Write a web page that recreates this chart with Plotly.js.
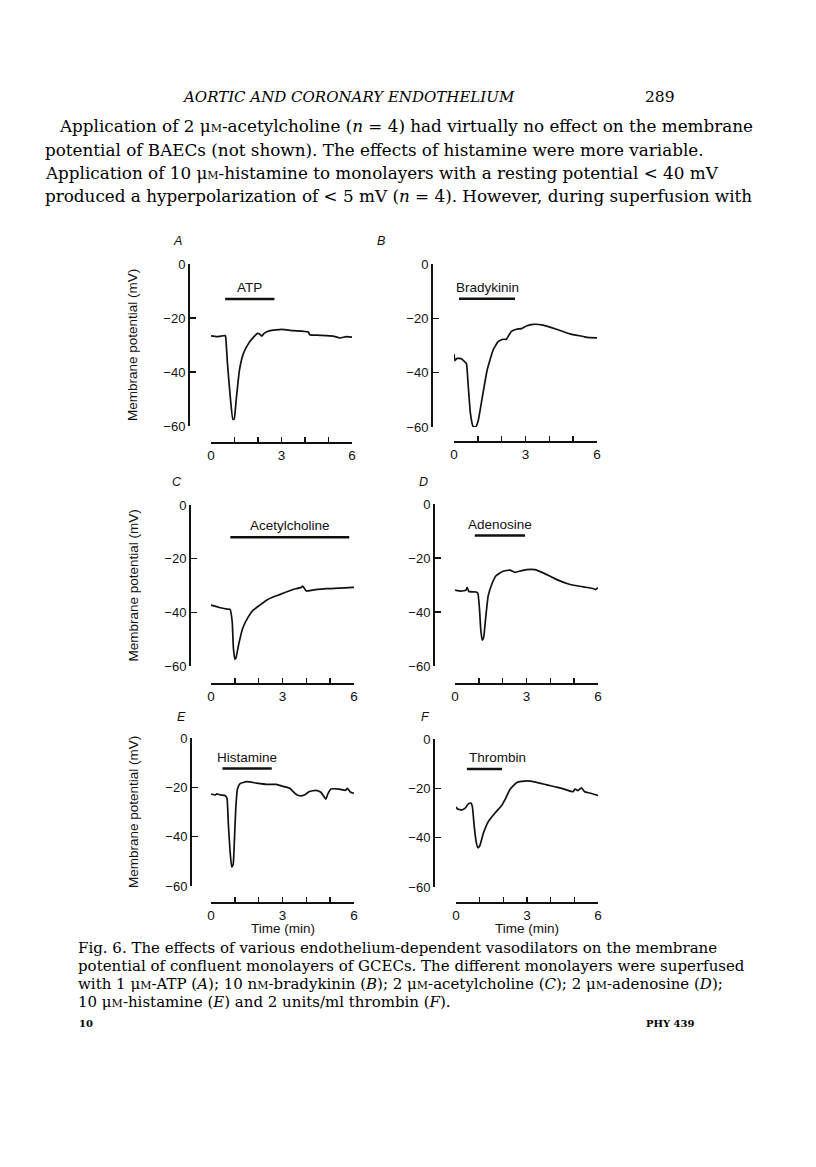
<!DOCTYPE html>
<html><head><meta charset="utf-8">
<script src="https://cdn.plot.ly/plotly-3.0.1.min.js"></script>
<style>html,body{margin:0;padding:0;background:#fff;}#chart{width:816px;height:1167px;}</style>
</head><body><div id="chart"></div>
<script>
// ---- data ----
const timeA = [0,0.25,0.6,0.62,0.7,0.82,0.93,0.99,1.07,1.21,1.38,1.6,1.81,1.98,2.06,2.16,2.26,2.51,3.0,3.5,4.14,4.2,4.63,5.2,5.48,5.76,6.0];
const mvA   = [-26.6,-26.9,-26.5,-26.7,-36.8,-49.2,-57.6,-57.3,-50.5,-39.3,-33.1,-29.4,-27.1,-25.7,-25.9,-26.7,-25.7,-24.7,-24.2,-24.7,-25.2,-26.2,-26.4,-26.7,-27.4,-26.9,-27.1];
const timeB = [0,0.04,0.13,0.31,0.45,0.52,0.6,0.69,0.8,0.91,1.02,1.19,1.39,1.64,1.85,2.06,2.2,2.31,2.41,2.62,2.83,3.04,3.32,3.74,4.3,4.86,5.43,5.57,6.0];
const mvB   = [-33.1,-35.6,-34.7,-34.9,-36.0,-36.6,-45.2,-55.1,-59.8,-60.0,-57.5,-48.9,-39.1,-31.7,-28.6,-27.7,-27.7,-26.1,-24.8,-24.0,-23.8,-22.8,-22.2,-22.5,-24.0,-25.7,-26.7,-27.0,-27.2];
const timeC = [0,0.39,0.67,0.8,0.89,0.94,1.0,1.05,1.16,1.33,1.57,1.77,2.05,2.33,2.6,2.88,3.16,3.44,3.78,3.85,3.99,4.27,4.82,5.38,5.93,6.0];
const mvC   = [-37.3,-38.3,-38.8,-38.9,-43.5,-53.3,-57.5,-56.9,-52.0,-45.9,-41.6,-39.2,-37.3,-35.5,-34.3,-33.4,-32.4,-31.5,-30.7,-30.2,-32.0,-31.7,-31.2,-31.0,-30.7,-30.7];
const timeD = [0,0.25,0.46,0.51,0.58,0.89,0.96,1.03,1.08,1.14,1.2,1.28,1.39,1.54,1.73,2.01,2.3,2.51,2.65,3.0,3.35,3.7,4.27,4.83,5.39,5.82,5.89,6.0];
const mvD   = [-31.9,-32.3,-31.9,-30.9,-32.4,-32.6,-33.1,-39.1,-46.4,-50.4,-49.5,-42.8,-34.1,-29.8,-26.5,-24.9,-24.5,-25.3,-25.0,-24.3,-24.3,-25.5,-28.0,-29.8,-30.7,-31.4,-31.7,-31.0];
const timeE = [0,0.18,0.25,0.39,0.6,0.67,0.73,0.8,0.87,0.93,0.98,1.04,1.11,1.22,1.5,1.91,2.33,2.74,3.02,3.3,3.57,3.71,3.92,4.13,4.41,4.61,4.75,4.82,4.9,5.03,5.38,5.65,5.72,5.86,6.0];
const mvE   = [-22.7,-23.1,-22.6,-23.1,-23.4,-24.4,-35.2,-45.9,-52.3,-51.3,-41.9,-28.5,-20.7,-18.5,-17.7,-18.3,-18.8,-18.8,-19.6,-20.4,-22.8,-23.4,-23.1,-21.7,-21.2,-22.0,-23.9,-24.8,-22.8,-20.7,-20.7,-21.2,-20.4,-22.0,-22.4];
const timeF = [0,0.07,0.25,0.39,0.53,0.63,0.69,0.77,0.86,0.93,1.0,1.16,1.37,1.65,1.93,2.07,2.29,2.57,2.99,3.41,3.83,4.25,4.67,4.95,5.02,5.16,5.3,5.44,5.65,6.0];
const mvF   = [-27.6,-28.4,-28.7,-28.0,-26.2,-26.0,-27.3,-35.4,-42.1,-44.1,-43.4,-38.1,-33.4,-30.0,-27.0,-24.6,-20.3,-17.6,-17.0,-17.6,-18.6,-19.5,-20.6,-21.4,-20.3,-20.9,-19.8,-21.4,-21.9,-22.9];

const panelLetters = ['A','B','C','D','E','F'];
const drugNames  = ['ATP','Bradykinin','Acetylcholine','Adenosine','Histamine','Thrombin'];
const drugStart  = [0.6,0.21,0.81,0.83,0.48,0.46];
const drugEnd    = [2.7,2.56,5.8,2.94,2.55,1.95];
const drugLevel  = [-13.0,-12.8,-12.0,-11.7,-12.4,-12.2];
const yTickVals  = [0,-20,-40,-60];
const yTickText  = ['0','\u221220','\u221240','\u221260'];
const xTickVals  = [0,1,2,3,4,5,6];
const xTickText  = ['0','','','3','','','6'];
const yTitle = 'Membrane potential (mV)';
const xTitle = 'Time (min)';

const timeSeries = [timeA,timeB,timeC,timeD,timeE,timeF];
const mvSeries   = [mvA,mvB,mvC,mvD,mvE,mvF];

// ---- layout geometry (pixels) ----
const W = 816, H = 1167;
const px = v => v / W;
const py = v => 1 - v / H;
const geo = [
  {yx:188, yt:264, yb:426, xl:211, xr:352, xy:442, lx:177, ly:241},
  {yx:431, yt:264, yb:427, xl:454, xr:597, xy:441, lx:381, ly:241},
  {yx:189, yt:505, yb:666, xl:211, xr:354, xy:683, lx:177, ly:482},
  {yx:433, yt:504, yb:666, xl:455, xr:598, xy:683, lx:423, ly:482},
  {yx:190, yt:738, yb:886, xl:211, xr:354, xy:902, lx:181, ly:717},
  {yx:433, yt:739, yb:887, xl:456, xr:598, xy:902, lx:425, ly:717}
];
const INK = '#111';
const sans = 'Liberation Sans, Arial, sans-serif';
const serif = 'DejaVu Serif, serif';

const traces = [];
const annotations = [];
const layout = {
  width: W, height: H, margin:{l:0,r:0,t:0,b:0},
  paper_bgcolor:'#fff', plot_bgcolor:'rgba(0,0,0,0)',
  showlegend:false, annotations: annotations
};

geo.forEach((g, i) => {
  const sfx = i === 0 ? '' : String(i+1);
  const xa = 'x' + sfx, ya = 'y' + sfx;
  layout['xaxis' + sfx] = {
    domain:[px(g.xl), px(g.xr)], range:[0,6], anchor:'free', position: py(g.xy),
    showline:true, linecolor:INK, linewidth:1.7, ticks:'inside', ticklen:5, tickwidth:1.5, tickcolor:INK,
    tickvals:xTickVals, ticktext:xTickText, showgrid:false, zeroline:false,
    tickfont:{family:sans, size:13.5, color:INK}, fixedrange:true
  };
  layout['yaxis' + sfx] = {
    domain:[py(g.yb), py(g.yt)], range:[-60,0], anchor:'free', position: px(g.yx),
    showline:true, linecolor:INK, linewidth:1.7, ticks:'inside', ticklen:6, tickwidth:1.5, tickcolor:INK,
    tickvals:yTickVals, ticktext:yTickText, showgrid:false, zeroline:false,
    tickfont:{family:sans, size:13, color:INK}, fixedrange:true
  };
  traces.push({type:'scatter', mode:'lines', x:timeSeries[i], y:mvSeries[i], xaxis:xa, yaxis:ya,
    line:{color:INK, width:1.7, shape:'spline', smoothing:0.4}, hoverinfo:'skip'});
  traces.push({type:'scatter', mode:'lines', x:[drugStart[i], drugEnd[i]], y:[drugLevel[i], drugLevel[i]],
    xaxis:xa, yaxis:ya, line:{color:INK, width:2.5}, hoverinfo:'skip'});
  const isLeft = drugNames[i] === 'Thrombin';
  annotations.push({xref:xa, yref:ya, x: isLeft ? drugStart[i] : (drugStart[i]+drugEnd[i])/2,
    y:drugLevel[i], xanchor: isLeft ? 'left' : 'center', yanchor:'bottom', yshift:2,
    text:drugNames[i], showarrow:false, font:{family:sans, size:13.5, color:INK}});
  annotations.push({xref:'paper', yref:'paper', x:px(g.lx), y:py(g.ly), xanchor:'center', yanchor:'middle',
    text:'<i>' + panelLetters[i] + '</i>', showarrow:false, font:{family:sans, size:12.5, color:INK}});
  if (i % 2 === 0) {
    annotations.push({xref:'paper', yref:'paper', x:px(133), y:py((g.yt+g.yb)/2), xanchor:'center', yanchor:'middle',
      textangle:-90, text:yTitle, showarrow:false, font:{family:sans, size:13.5, color:INK}});
  }
  if (i >= 4) {
    annotations.push({xref:'paper', yref:'paper', x:px((g.xl+g.xr)/2), y:py(929), xanchor:'center', yanchor:'middle',
      text:xTitle, showarrow:false, font:{family:sans, size:13.5, color:INK}});
  }
});

// ---- page text ----
const mu = '\u03bc<span style="font-size:11px">M</span>';
const nm = 'n<span style="font-size:11px">M</span>';
function addText(text, x, y, size, anchor, italic){
  annotations.push({xref:'paper', yref:'paper', x:px(x), y:py(y), xanchor:anchor||'left', yanchor:'middle',
    text: italic ? '<i>'+text+'</i>' : text, showarrow:false, font:{family:serif, size:size, color:'#000'}});
}
addText('AORTIC AND CORONARY ENDOTHELIUM', 348, 97, 15, 'center', true);
addText('289', 677, 97, 15.5, 'right');
addText('Application of 2 '+mu+'-acetylcholine (<i>n</i> = 4) had virtually no effect on the membrane', 57, 126, 16.8);
addText('potential of BAECs (not shown). The effects of histamine were more variable.', 43, 150, 16.8);
addText('Application of 10 '+mu+'-histamine to monolayers with a resting potential &lt; 40 mV', 43, 173, 16.8);
addText('produced a hyperpolarization of &lt; 5 mV (<i>n</i> = 4). However, during superfusion with', 43, 196, 16.8);
addText('Fig. 6. The effects of various endothelium-dependent vasodilators on the membrane', 76, 948, 15);
addText('potential of confluent monolayers of GCECs. The different monolayers were superfused', 76, 966, 15);
addText('with 1 '+mu+'-ATP (<i>A</i>); 10 '+nm+'-bradykinin (<i>B</i>); 2 '+mu+'-acetylcholine (<i>C</i>); 2 '+mu+'-adenosine (<i>D</i>);', 76, 984, 15);
addText('10 '+mu+'-histamine (<i>E</i>) and 2 units/ml thrombin (<i>F</i>).', 76, 1002, 15);
addText('<b>10</b>', 77, 1023, 10);
addText('<b>PHY 439</b>', 697, 1023, 10, 'right');

Plotly.newPlot('chart', traces, layout, {staticPlot:true, displayModeBar:false});
</script>
</body></html>
